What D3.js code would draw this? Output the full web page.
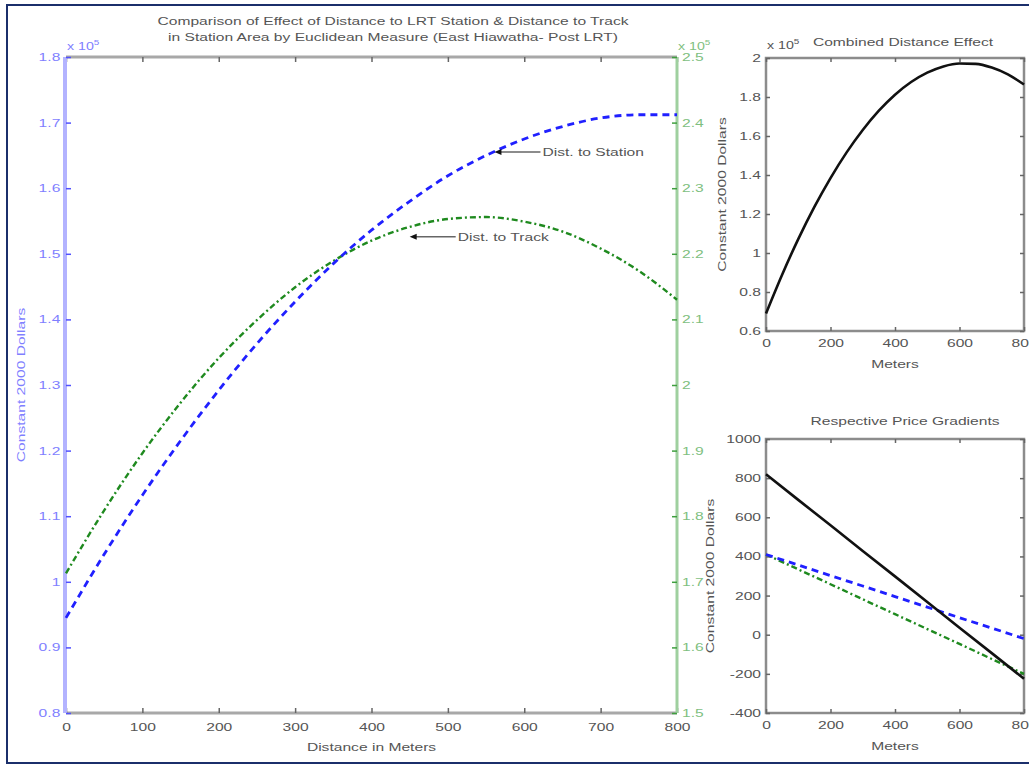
<!DOCTYPE html>
<html>
<head>
<meta charset="utf-8">
<script src="https://cdn.jsdelivr.net/npm/d3@7"></script>
<style>
html,body{margin:0;padding:0;background:#fff;}
svg{display:block;font-family:"Liberation Sans",Arial,sans-serif;}
</style>
</head>
<body>
<svg id="chart" width="1029" height="766"></svg>
<script>
// ---------- DATA ----------
const distances = [0,50,100,150,200,250,300,350,400,450,500,550,600,650,700,750,800];
// Effect of distance to LRT station (x10^5 constant 2000 dollars, left axis)
const stationEffect = [0.945,1.042,1.132,1.215,1.292,1.363,1.427,1.485,1.536,1.580,1.619,1.650,1.675,1.694,1.707,1.712,1.712];
// Effect of distance to track (x10^5, right axis)
const trackEffect = [1.713,1.809,1.896,1.973,2.041,2.099,2.149,2.189,2.220,2.241,2.253,2.256,2.249,2.234,2.208,2.174,2.130];
// Combined distance effect (x10^5)
const combinedEffect = [0.690,0.889,1.071,1.236,1.384,1.516,1.631,1.730,1.812,1.877,1.925,1.957,1.972,1.970,1.951,1.916,1.864];
// Price gradients (dollars per meter)
const gradDistances = [0,100,200,300,400,500,600,700,800];
const gradCombined = [820,689,559,428,298,167,36,-94,-225];
const gradStation = [410,356,302,249,195,141,87,34,-20];
const gradTrack = [410,334,258,181,105,29,-47,-124,-200];

const mainXTicks = [0,100,200,300,400,500,600,700,800];
const leftTicks = [0.8,0.9,1,1.1,1.2,1.3,1.4,1.5,1.6,1.7,1.8];
const rightTicks = [1.5,1.6,1.7,1.8,1.9,2,2.1,2.2,2.3,2.4,2.5];
const smallXTicks = [0,200,400,600,800];
const combinedTicks = [0.6,0.8,1,1.2,1.4,1.6,1.8,2];
const gradTicks = [-400,-200,0,200,400,600,800,1000];

const titleLines = ["Comparison of Effect of Distance to LRT Station & Distance to Track",
                    "in Station Area by Euclidean Measure (East Hiawatha- Post LRT)"];
const annotations = [
  {label:"Dist. to Station", d:561, v:1.655, axis:"left"},
  {label:"Dist. to Track", d:450, v:2.226, axis:"right"}
];

// ---------- DRAW ----------
const SX = 1.42;          // horizontal stretch of the reference's lettering
const FS = "11px";
const svg = d3.select("#chart");
const fmt = d => String(+d.toFixed(2));
const textCol = "#555";

function label(px, py, str, opts={}){
  const rot = opts.rotate ? " rotate(-90)" : "";
  return svg.append("text")
    .attr("transform",`translate(${px},${py})${rot} scale(${SX},1)`)
    .attr("text-anchor", opts.anchor || "middle")
    .attr("fill", opts.fill || textCol)
    .style("font-size", opts.size || FS)
    .text(str);
}

// outer frame
svg.append("rect").attr("x",7).attr("y",5).attr("width",1060).attr("height",758)
  .attr("fill","none").attr("stroke","#1b2f6b").attr("stroke-width",2);

// ===== main chart =====
const x = d3.scaleLinear().domain([0,800]).range([66,677]);
const yL = d3.scaleLinear().domain([0.8,1.8]).range([713,57]);
const yR = d3.scaleLinear().domain([1.5,2.5]).range([713,57]);

function styleAxis(g, tickCol, textFill){
  g.select(".domain").remove();
  g.selectAll(".tick line").attr("stroke",tickCol).attr("stroke-width",1.5);
  g.selectAll(".tick text").attr("fill",textFill).style("font-size",FS)
    .attr("transform",`scale(${SX},1)`);
}

// top axis
svg.append("line").attr("x1",x(0)).attr("x2",x(800)).attr("y1",yL(1.8)).attr("y2",yL(1.8))
  .attr("stroke","#a8a8a8").attr("stroke-width",3);
styleAxis(svg.append("g").attr("transform",`translate(0,${yL(1.8)})`)
  .call(d3.axisTop(x).tickValues(mainXTicks).tickSize(-5).tickFormat("")),"#666",textCol);

// bottom axis
svg.append("line").attr("x1",x(0)).attr("x2",x(800)).attr("y1",yL(0.8)).attr("y2",yL(0.8))
  .attr("stroke","#a8a8a8").attr("stroke-width",3);
styleAxis(svg.append("g").attr("transform",`translate(0,${yL(0.8)})`)
  .call(d3.axisBottom(x).tickValues(mainXTicks).tickSize(-5).tickPadding(10)),"#666",textCol);

// left axis
svg.append("line").attr("x1",x(0)-1).attr("x2",x(0)-1).attr("y1",yL(0.8)).attr("y2",yL(1.8))
  .attr("stroke","#b3b3ff").attr("stroke-width",4);
styleAxis(svg.append("g").attr("transform",`translate(${x(0)},0)`)
  .call(d3.axisLeft(yL).tickValues(leftTicks).tickSize(-5).tickPadding(4).tickFormat(fmt)),"#5050ff","#7f7fff");

// right axis
svg.append("line").attr("x1",x(800)).attr("x2",x(800)).attr("y1",yR(1.5)).attr("y2",yR(2.5))
  .attr("stroke","#9fd09f").attr("stroke-width",3);
styleAxis(svg.append("g").attr("transform",`translate(${x(800)},0)`)
  .call(d3.axisRight(yR).tickValues(rightTicks).tickSize(-5).tickPadding(3.5).tickFormat(fmt)),"#3f9f3f","#7fbf7f");

// exponent labels
function expLabel(px, py, col){
  const t = svg.append("text").attr("transform",`translate(${px},${py}) scale(${SX},1)`)
    .attr("fill",col).style("font-size","10px");
  t.append("tspan").text("x 10");
  t.append("tspan").attr("dy",-5).style("font-size","7px").text("5");
}
expLabel(x(0)+1, yL(1.8)-7, "#7f7fff");
expLabel(x(800)+1, yR(2.5)-7, "#7fbf7f");

// title
titleLines.forEach((t,i)=> label(393, 25+i*16, t));
// axis labels
label((x(0)+x(800))/2, 751, "Distance in Meters");
label(25, (yL(0.8)+yL(1.8))/2, "Constant 2000 Dollars", {rotate:true, fill:"#7f7fff"});

// lines
const lineStation = d3.line().x((d,i)=>x(distances[i])).y(d=>yL(d)).curve(d3.curveMonotoneX);
const lineTrack = d3.line().x((d,i)=>x(distances[i])).y(d=>yR(d)).curve(d3.curveMonotoneX);
svg.append("path").datum(trackEffect).attr("d",lineTrack).attr("fill","none")
  .attr("stroke","#1f8a1f").attr("stroke-width",2.4).attr("stroke-dasharray","6,3,2,3");
svg.append("path").datum(stationEffect).attr("d",lineStation).attr("fill","none")
  .attr("stroke","#2020ff").attr("stroke-width",2.8).attr("stroke-dasharray","7,5");

// annotations
annotations.forEach(a=>{
  const tx = x(a.d), ty = (a.axis==="left"?yL:yR)(a.v);
  svg.append("line").attr("x1",tx+4).attr("x2",tx+46).attr("y1",ty).attr("y2",ty)
    .attr("stroke","#666").attr("stroke-width",1.5);
  svg.append("path").attr("d",`M${tx},${ty} L${tx+7},${ty-3} L${tx+7},${ty+3} Z`).attr("fill","#111");
  label(tx+48, ty+4, a.label, {anchor:"start"});
});

// ===== small panels =====
const xs = d3.scaleLinear().domain([0,800]).range([766,1024]);
function panel(y, ticks, title, titleY, ylabelX, withExp){
  const [y0,y1] = y.range();
  svg.append("rect").attr("x",xs(0)).attr("y",y1).attr("width",xs(800)-xs(0)).attr("height",y0-y1)
    .attr("fill","none").attr("stroke","#8c8c8c").attr("stroke-width",2.5);
  styleAxis(svg.append("g").attr("transform",`translate(0,${y0})`)
    .call(d3.axisBottom(xs).tickValues(smallXTicks).tickSize(-4).tickPadding(8)),"#666",textCol);
  styleAxis(svg.append("g").attr("transform",`translate(0,${y1})`)
    .call(d3.axisTop(xs).tickValues(smallXTicks).tickSize(-4).tickFormat("")),"#666",textCol);
  styleAxis(svg.append("g").attr("transform",`translate(${xs(0)},0)`)
    .call(d3.axisLeft(y).tickValues(ticks).tickSize(-4).tickPadding(3.5).tickFormat(fmt)),"#666",textCol);
  styleAxis(svg.append("g").attr("transform",`translate(${xs(800)},0)`)
    .call(d3.axisRight(y).tickValues(ticks).tickSize(-4).tickFormat("")),"#666",textCol);
  label(withExp?903:905, titleY, title);
  label((xs(0)+xs(800))/2, y0+37, "Meters");
  label(ylabelX, (y0+y1)/2, "Constant 2000 Dollars", {rotate:true});
  if(withExp) expLabel(xs(0)+1, y1-9, textCol);
}

const yC = d3.scaleLinear().domain([0.6,2]).range([331,58]);
panel(yC, combinedTicks, "Combined Distance Effect", 46, 726, true);
svg.append("path").datum(combinedEffect)
  .attr("d", d3.line().x((d,i)=>xs(distances[i])).y(d=>yC(d)).curve(d3.curveMonotoneX))
  .attr("fill","none").attr("stroke","#111").attr("stroke-width",2.6);

const yG = d3.scaleLinear().domain([-400,1000]).range([713,439]);
panel(yG, gradTicks, "Respective Price Gradients", 425, 714, false);
const gl2 = d3.line().x((d,i)=>xs(gradDistances[i])).y(d=>yG(d));
svg.append("path").datum(gradTrack).attr("d",gl2).attr("fill","none")
  .attr("stroke","#1f8a1f").attr("stroke-width",2.4).attr("stroke-dasharray","6,3,2,3");
svg.append("path").datum(gradStation).attr("d",gl2).attr("fill","none")
  .attr("stroke","#2020ff").attr("stroke-width",2.8).attr("stroke-dasharray","7,5");
svg.append("path").datum(gradCombined).attr("d",gl2).attr("fill","none")
  .attr("stroke","#111").attr("stroke-width",2.6);
</script>
</body>
</html>
